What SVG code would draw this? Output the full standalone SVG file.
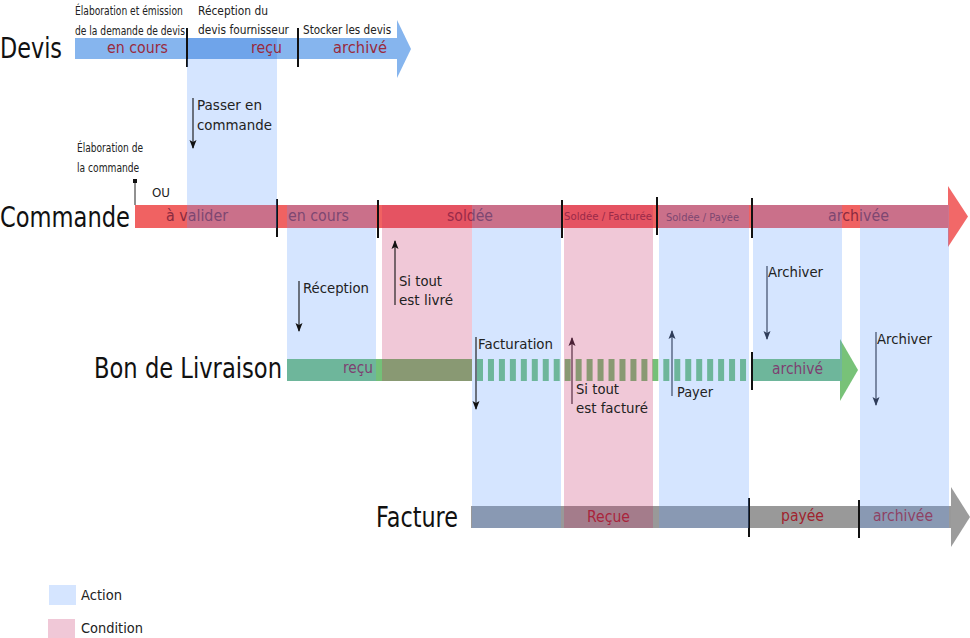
<svg xmlns="http://www.w3.org/2000/svg" width="970" height="638" viewBox="0 0 970 638">
  <defs>
    <marker id="head" markerUnits="userSpaceOnUse" markerWidth="10" markerHeight="8" refX="8" refY="4" orient="auto">
      <path d="M0,0.5 L9,4 L0,7.5 L2,4 z" fill="context-stroke"/>
    </marker>
    <style>
      text { font-family: "DejaVu Sans", "Liberation Sans", sans-serif; }
      .title { font-size: 29px; fill: #111; }
      .note { font-size: 12.5px; fill: #222; }
      .state { font-size: 15px; }
      .small { font-size: 10px; }
      .ann { font-size: 14px; fill: #222; }
      .action { fill: #5c9afe; fill-opacity: 0.26; }
      .condition { fill: #c42a64; fill-opacity: 0.26; }
      .tick { stroke: #111; stroke-width: 2; }
      .arrow { stroke-width: 1.1; fill: none; marker-end: url(#head); }
    </style>
  </defs>
  <rect width="970" height="638" fill="#fff"/>

  <!-- Devis timeline -->
  <g id="devis">
    <text class="title" x="0" y="58" font-size="28" textLength="62" lengthAdjust="spacingAndGlyphs">Devis</text>
    <rect x="75" y="38" width="322" height="21" fill="#86b5ee"/>
    <rect x="187" y="38" width="90" height="21" fill="#6fa4ea"/>
    <polygon points="397,20 411,49 397,78" fill="#86b5ee"/>
    <g fill="#9a2a3c" class="state">
      <text x="107" y="53" textLength="61" lengthAdjust="spacingAndGlyphs">en cours</text>
      <text x="251" y="53" textLength="31" lengthAdjust="spacingAndGlyphs">reçu</text>
      <text x="333" y="53" textLength="54" lengthAdjust="spacingAndGlyphs">archivé</text>
    </g>
    <!-- narrow captions: horizontally condensed via transform -->
    <g class="note">
      <text transform="matrix(0.7 0 0 1 75 15)" textLength="154" lengthAdjust="spacingAndGlyphs">Élaboration et émission</text>
      <text transform="matrix(0.7 0 0 1 75 35)" textLength="157" lengthAdjust="spacingAndGlyphs">de la demande de devis</text>
      <text transform="matrix(0.7 0 0 1 198 15)" textLength="100" lengthAdjust="spacingAndGlyphs">Réception du</text>
      <text transform="matrix(0.7 0 0 1 198 34)" textLength="130" lengthAdjust="spacingAndGlyphs">devis fournisseur</text>
      <text transform="matrix(0.7 0 0 1 303 34)" textLength="126" lengthAdjust="spacingAndGlyphs">Stocker les devis</text>
    </g>
    <line class="tick" x1="187" y1="28" x2="187" y2="67"/>
    <line class="tick" x1="298" y1="28" x2="298" y2="67"/>
  </g>

  <!-- Commande timeline -->
  <g id="commande">
    <text class="title" x="0" y="227" font-size="30" textLength="130" lengthAdjust="spacingAndGlyphs">Commande</text>
    <rect x="135" y="205" width="813" height="23" fill="#f06262"/>
    <polygon points="948,186 968,216.5 948,247" fill="#f26868"/>
    <g fill="#8a2a40" class="state">
      <text x="166" y="221" textLength="62" lengthAdjust="spacingAndGlyphs">à valider</text>
      <text x="288" y="221" textLength="61" lengthAdjust="spacingAndGlyphs">en cours</text>
      <text x="447" y="221" textLength="46" lengthAdjust="spacingAndGlyphs">soldée</text>
      <text x="564" y="220" class="small" textLength="88" lengthAdjust="spacingAndGlyphs">Soldée / Facturée</text>
      <text x="666" y="221" class="small" textLength="73" lengthAdjust="spacingAndGlyphs">Soldée / Payée</text>
      <text x="828" y="221" textLength="61" lengthAdjust="spacingAndGlyphs">archivée</text>
    </g>
    <g class="note">
      <text transform="matrix(0.75 0 0 1 77 152)" textLength="88" lengthAdjust="spacingAndGlyphs">Élaboration de</text>
      <text transform="matrix(0.75 0 0 1 77 172)" textLength="83" lengthAdjust="spacingAndGlyphs">la commande</text>
      <text x="152" y="197" font-size="13" textLength="18" lengthAdjust="spacingAndGlyphs">OU</text>
    </g>
    <line x1="135" y1="181" x2="135" y2="205" stroke="#222" stroke-width="1"/>
    <rect x="133" y="179" width="4" height="4" fill="#111"/>
    <line class="tick" x1="277" y1="199" x2="277" y2="237"/>
    <line class="tick" x1="378" y1="200" x2="378" y2="238"/>
    <line class="tick" x1="562" y1="200" x2="562" y2="238"/>
    <line class="tick" x1="657" y1="197" x2="657" y2="235"/>
    <line class="tick" x1="752" y1="198" x2="752" y2="238"/>
  </g>

  <!-- Bon de Livraison timeline -->
  <g id="bon-livraison">
    <text class="title" x="94" y="378" font-size="27" textLength="188" lengthAdjust="spacingAndGlyphs">Bon de Livraison</text>
    <rect x="287" y="359" width="185" height="22" fill="#74c078"/>
    <line x1="477" y1="370" x2="748" y2="370" stroke="#74c078" stroke-width="22" stroke-dasharray="6 4.96"/>
    <rect x="752" y="359" width="89" height="22" fill="#74c078"/>
    <polygon points="840,339 858,370 840,401" fill="#78c278"/>
    <g fill="#8a2040" class="state">
      <text x="343" y="373" textLength="30" lengthAdjust="spacingAndGlyphs">reçu</text>
      <text x="772" y="374" textLength="51" lengthAdjust="spacingAndGlyphs">archivé</text>
    </g>
    <line class="tick" x1="752" y1="352" x2="752" y2="390"/>
  </g>

  <!-- Facture timeline -->
  <g id="facture">
    <text class="title" x="376" y="527" textLength="82" lengthAdjust="spacingAndGlyphs">Facture</text>
    <rect x="471" y="506" width="480" height="22" fill="#999"/>
    <polygon points="951,487 970,517 951,547" fill="#9c9c9c"/>
    <g fill="#a0232e" class="state">
      <text x="587" y="522" textLength="43" lengthAdjust="spacingAndGlyphs">Reçue</text>
      <text x="781" y="521" textLength="43" lengthAdjust="spacingAndGlyphs">payée</text>
      <text x="873" y="521" textLength="60" lengthAdjust="spacingAndGlyphs">archivée</text>
    </g>
    <line class="tick" x1="749" y1="498" x2="749" y2="537"/>
    <line class="tick" x1="859" y1="500" x2="859" y2="538"/>
  </g>

  <!-- Action / condition bands -->
  <g id="passer-commande">
    <rect class="action" x="187" y="59" width="90" height="169"/>
    <text class="ann" x="197" y="110" textLength="65" lengthAdjust="spacingAndGlyphs">Passer en</text>
    <text class="ann" x="197" y="130" textLength="75" lengthAdjust="spacingAndGlyphs">commande</text>
  </g>
  <g id="reception">
    <rect class="action" x="287" y="205" width="89" height="176"/>
    <text class="ann" x="303" y="293" textLength="66" lengthAdjust="spacingAndGlyphs">Réception</text>
  </g>
  <g id="tout-livre">
    <rect class="condition" x="382" y="205" width="90" height="176"/>
    <text class="ann" x="399" y="286" textLength="43" lengthAdjust="spacingAndGlyphs">Si tout</text>
    <text class="ann" x="399" y="305" textLength="54" lengthAdjust="spacingAndGlyphs">est livré</text>
  </g>
  <g id="facturation">
    <rect class="action" x="472" y="205" width="89" height="323"/>
    <text class="ann" x="478" y="349" textLength="75" lengthAdjust="spacingAndGlyphs">Facturation</text>
  </g>
  <g id="tout-facture">
    <rect class="condition" x="564" y="205" width="89" height="323"/>
    <text class="ann" x="576" y="394" fill="#5a3040" textLength="43" lengthAdjust="spacingAndGlyphs">Si tout</text>
    <text class="ann" x="576" y="413" fill="#5a3040" textLength="72" lengthAdjust="spacingAndGlyphs">est facturé</text>
  </g>
  <g id="payer">
    <rect class="action" x="659" y="205" width="90" height="323"/>
    <text class="ann" x="677" y="397" fill="#3b4a66" textLength="36" lengthAdjust="spacingAndGlyphs">Payer</text>
  </g>
  <g id="archiver-bl">
    <rect class="action" x="753" y="205" width="89" height="176"/>
    <text class="ann" x="768" y="277" fill="#3b4a66" textLength="55" lengthAdjust="spacingAndGlyphs">Archiver</text>
  </g>
  <g id="archiver-facture">
    <rect class="action" x="860" y="205" width="89" height="323"/>
    <text class="ann" x="877" y="344" fill="#3b4a66" textLength="55" lengthAdjust="spacingAndGlyphs">Archiver</text>
  </g>

  <!-- Transitions -->
  <g id="connectors">
    <line class="arrow" stroke="#111" x1="193" y1="98" x2="193" y2="148"/>
    <line class="arrow" stroke="#111" x1="299" y1="281" x2="299" y2="331"/>
    <line class="arrow" stroke="#111" x1="395" y1="305" x2="395" y2="241"/>
    <line class="arrow" stroke="#111" x1="476" y1="337" x2="476" y2="409"/>
    <line class="arrow" stroke="#4a2035" x1="572" y1="404" x2="572" y2="338"/>
    <line class="arrow" stroke="#2f3d5a" x1="672" y1="396" x2="672" y2="331"/>
    <line class="arrow" stroke="#2f3d5a" x1="767" y1="266" x2="767" y2="339"/>
    <line class="arrow" stroke="#2f3d5a" x1="876" y1="332" x2="876" y2="405"/>
  </g>

  <!-- Legend -->
  <g id="legend">
    <rect class="action" x="49" y="585" width="27" height="20"/>
    <text class="ann" x="81" y="600" textLength="41" lengthAdjust="spacingAndGlyphs">Action</text>
    <rect class="condition" x="48" y="619" width="27" height="19"/>
    <text class="ann" x="81" y="633" textLength="62" lengthAdjust="spacingAndGlyphs">Condition</text>
  </g>
</svg>
